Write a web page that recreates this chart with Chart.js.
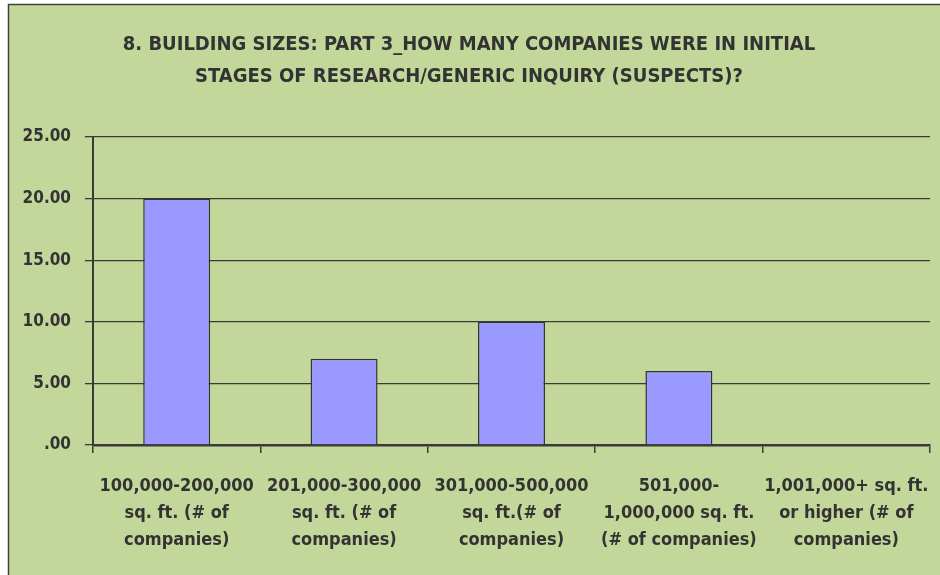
<!DOCTYPE html>
<html>
<head>
<meta charset="utf-8">
<script src="https://cdn.jsdelivr.net/npm/chart.js@4"></script>
<style>
  html, body { margin: 0; padding: 0; background: #ffffff; }
  #wrap { width: 940px; height: 575px; }
</style>
</head>
<body>
<div id="wrap"><canvas id="chartCanvas" width="940" height="575"></canvas></div>
<script>
const titleLines = [
    '8. BUILDING SIZES: PART 3_HOW MANY COMPANIES WERE IN INITIAL',
    'STAGES OF RESEARCH/GENERIC INQUIRY (SUSPECTS)?'
];
const categories = [
    ['100,000-200,000', 'sq. ft. (# of', 'companies)'],
    ['201,000-300,000', 'sq. ft. (# of', 'companies)'],
    ['301,000-500,000', 'sq. ft.(# of', 'companies)'],
    ['501,000-', '1,000,000 sq. ft.', '(# of companies)'],
    ['1,001,000+ sq. ft.', 'or higher (# of', 'companies)']
];
const companies = [20, 7, 10, 6, 0];
const yMin = 0;
const yMax = 25;
const yStep = 5;

const fontFamily = "'Liberation Sans Narrow', 'DejaVu Sans Condensed', 'Liberation Sans', sans-serif";
const textColor = '#333333';
const lineColor = '#3a3a3a';

// fond vert et cadre autour du graphique
const backdrop = {
    id: 'backdrop',
    beforeDraw: function (chart) {
        const ctx = chart.ctx;
        ctx.save();
        ctx.fillStyle = '#ffffff';
        ctx.fillRect(0, 0, chart.width, chart.height);
        ctx.fillStyle = '#c4d79b';
        ctx.fillRect(8, 4, chart.width - 8, chart.height - 4);
        ctx.strokeStyle = '#404040';
        ctx.lineWidth = 1.5;
        ctx.strokeRect(8.5, 4.5, chart.width + 10, chart.height + 10);
        ctx.restore();
    }
};

new Chart(document.getElementById('chartCanvas').getContext('2d'), {
    type: 'bar',
    data: {
        labels: categories,
        datasets: [{
            data: companies,
            backgroundColor: '#9999ff',
            borderColor: '#333333',
            borderWidth: 1.5,
            barPercentage: 0.4,
            categoryPercentage: 1
        }]
    },
    options: {
        responsive: false,
        animation: false,
        devicePixelRatio: 1,
        layout: { padding: { left: 8, right: 10, top: 0, bottom: 0 } },
        plugins: {
            legend: { display: false },
            tooltip: { enabled: false },
            title: {
                display: true,
                text: titleLines,
                color: textColor,
                font: { family: fontFamily, size: 20, weight: 'bold', lineHeight: 1.6 },
                padding: { top: 29, bottom: 44 }
            }
        },
        scales: {
            x: {
                grid: {
                    drawOnChartArea: false,
                    drawTicks: true,
                    tickLength: 8,
                    color: lineColor,
                    lineWidth: 1.5
                },
                border: { color: lineColor, width: 2.5 },
                ticks: {
                    color: textColor,
                    maxRotation: 0,
                    autoSkip: false,
                    padding: 20,
                    font: { family: fontFamily, size: 18, weight: 'bold', lineHeight: 1.5 }
                },
                afterFit: function (scale) {
                    scale.height = 130;
                    scale.paddingLeft = 0;
                    scale.paddingRight = 0;
                }
            },
            y: {
                min: yMin,
                max: yMax,
                grid: {
                    color: lineColor,
                    lineWidth: 1.3,
                    tickLength: 8
                },
                border: { color: lineColor, width: 2 },
                ticks: {
                    stepSize: yStep,
                    color: textColor,
                    padding: 14,
                    font: { family: fontFamily, size: 17, weight: 'bold' },
                    callback: function (value) {
                        const s = Number(value).toFixed(2);
                        return s.startsWith('0.') ? s.slice(1) : s;
                    }
                },
                afterFit: function (scale) { scale.width = 85; }
            }
        }
    },
    plugins: [backdrop]
});
</script>
</body>
</html>
